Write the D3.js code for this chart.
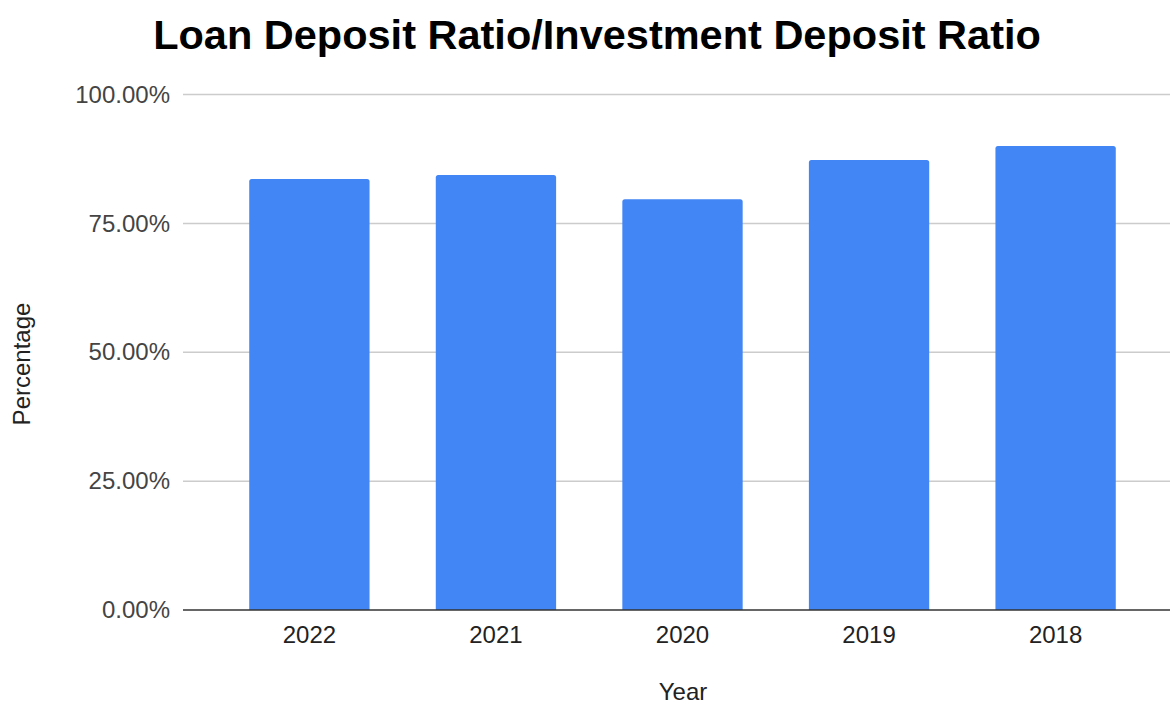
<!DOCTYPE html>
<html>
<head>
<meta charset="utf-8">
<script src="https://cdn.jsdelivr.net/npm/d3@7"></script>
<style>
  html, body { margin: 0; padding: 0; background: #fff; }
  svg { display: block; font-family: "Liberation Sans", Arial, sans-serif; }
</style>
</head>
<body>
<svg id="chart" width="1170" height="707"></svg>
<script>
// Loan deposit ratio by year (percent)
const years = ["2022", "2021", "2020", "2019", "2018"];
const ratios = [83.6, 84.4, 79.7, 87.3, 90.0];
const yTicks = [0, 25, 50, 75, 100];

const titleText = "Loan Deposit Ratio/Investment Deposit Ratio";
const xTitle = "Year";
const yTitle = "Percentage";

const W = 1170, H = 707;
const plot = { left: 183, right: 1182, top: 94.5, bottom: 610 };

const svg = d3.select("#chart");

const x = d3.scaleBand()
  .domain(years)
  .range([plot.left, plot.right])
  .paddingInner(0.355)
  .paddingOuter(0.355);

const y = d3.scaleLinear()
  .domain([0, 100])
  .range([plot.bottom, plot.top]);

// Horizontal gridlines
svg.append("g")
  .selectAll("line")
  .data(yTicks.filter(d => d !== 0))
  .join("line")
  .attr("x1", plot.left)
  .attr("x2", W)
  .attr("y1", d => y(d))
  .attr("y2", d => y(d))
  .attr("stroke", "#cccccc")
  .attr("stroke-width", 1.5);

// Y axis tick labels
const yAxis = d3.axisLeft(y)
  .tickValues(yTicks)
  .tickSize(0)
  .tickPadding(13)
  .tickFormat(d => d.toFixed(2) + "%");

svg.append("g")
  .attr("transform", `translate(${plot.left},0)`)
  .call(yAxis)
  .call(g => g.select(".domain").remove())
  .call(g => g.selectAll("text")
    .attr("font-size", 24)
    .attr("fill", "#444")
    .attr("font-family", "Liberation Sans, Arial, sans-serif"));

// Bars with slightly rounded top corners
const r = 2.5;
svg.append("g")
  .selectAll("path")
  .data(years.map((yr, i) => ({ yr, v: ratios[i] })))
  .join("path")
  .attr("fill", "#4285f4")
  .attr("d", d => {
    const x0 = x(d.yr), x1 = x0 + x.bandwidth();
    const y0 = y(0), y1 = y(d.v);
    return `M${x0},${y0} V${y1 + r} Q${x0},${y1} ${x0 + r},${y1} H${x1 - r} Q${x1},${y1} ${x1},${y1 + r} V${y0} Z`;
  });

// Baseline
svg.append("line")
  .attr("x1", plot.left)
  .attr("x2", W)
  .attr("y1", y(0))
  .attr("y2", y(0))
  .attr("stroke", "#333")
  .attr("stroke-width", 1.5);

// X axis labels
const xAxis = d3.axisBottom(x).tickSize(0).tickPadding(16);
svg.append("g")
  .attr("transform", `translate(0,${plot.bottom})`)
  .call(xAxis)
  .call(g => g.select(".domain").remove())
  .call(g => g.selectAll("text")
    .attr("font-size", 24)
    .attr("fill", "#222")
    .attr("font-family", "Liberation Sans, Arial, sans-serif"));

// Title
svg.append("text")
  .attr("x", 597)
  .attr("y", 49)
  .attr("text-anchor", "middle")
  .attr("font-size", 41.5)
  .attr("font-weight", "bold")
  .attr("fill", "#000")
  .text(titleText);

// Axis titles
svg.append("text")
  .attr("x", 683)
  .attr("y", 700)
  .attr("text-anchor", "middle")
  .attr("font-size", 24)
  .attr("fill", "#222")
  .text(xTitle);

svg.append("text")
  .attr("transform", "translate(30,364) rotate(-90)")
  .attr("text-anchor", "middle")
  .attr("font-size", 24)
  .attr("fill", "#222")
  .text(yTitle);
</script>
</body>
</html>
